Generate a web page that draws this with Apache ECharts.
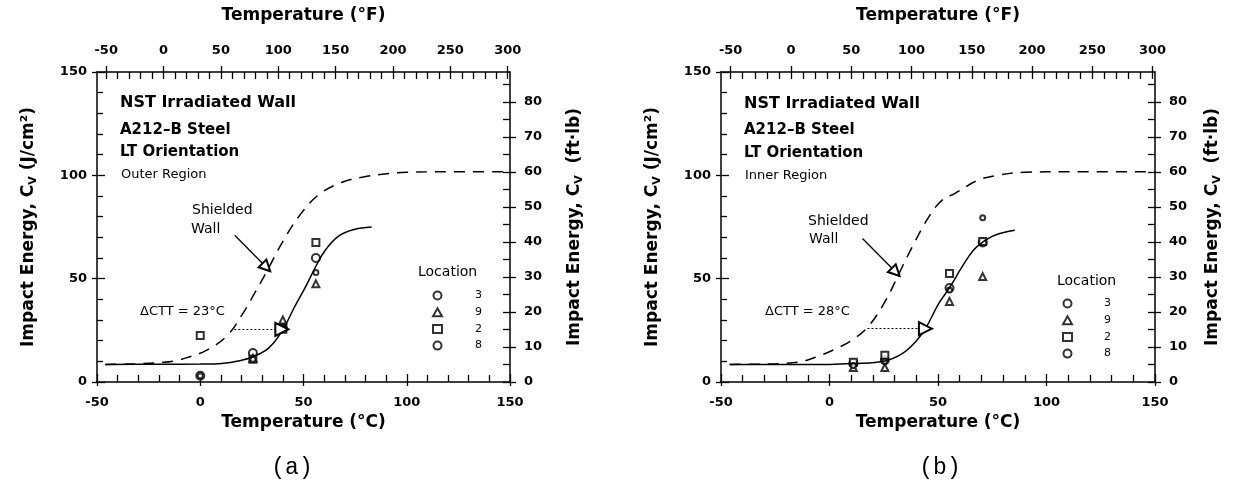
<!DOCTYPE html>
<html>
<head>
<meta charset="utf-8">
<script src="https://cdn.jsdelivr.net/npm/echarts@6/dist/echarts.min.js"></script>
<style>
html,body{margin:0;padding:0;background:#fff;}
#chart{width:1237px;height:491px;}
</style>
</head>
<body>
<div id="chart"></div>
<script>
// ---------- tick labels ----------
const tempC_ticks = [-50, 0, 50, 100, 150];
const tempF_ticks = [-50, 0, 50, 100, 150, 200, 250, 300];
const tempF_minor = [-50,-40,-30,-20,-10,0,10,20,30,40,50,60,70,80,90,100,110,120,130,140,150,160,170,180,190,200,210,220,230,240,250,260,270,280,290,300];
const energyJ_ticks = [0, 50, 100, 150];
const ftlb_ticks = [0,10,20,30,40,50,60,70,80];
const ftlb_minor = [0,5,10,15,20,25,30,35,40,45,50,55,60,65,70,75,80,85];
const locations = ['3', '9', '2', '8'];

// ---------- panel (a): Outer Region ----------
const shieldedA = [[-46,8.5],[-30,8.8],[-18,9.5],[-12.5,10.2],[-6.4,11.8],[2.7,15.2],[12.7,22.1],[20.3,32.6],[26.4,43.1],[33.2,55.3],[40.1,68.2],[48.5,81.1],[57.6,90.8],[68.3,96.5],[79,99.2],[88,100.5],[100,101.5],[120,101.7],[150,101.7]];
const irradA = [[-46,8.5],[-20,8.6],[0,8.7],[10.4,9],[20,10.5],[25.6,12.2],[33.2,16.5],[40,25.3],[45.4,35.8],[51.5,47],[56,56],[60.7,64],[66.8,70.5],[74,73.7],[83,75]];
const a_loc3 = [[0,3],[25.5,14],[40,26],[56,60]];
const a_loc9 = [[25.5,11.5],[40,30],[56,47.5]];
const a_loc2 = [[0,22.5],[25.5,11],[40,25.5],[56,67.5]];
const a_loc8 = [[0,3],[25.5,11],[40,26],[56,53]];
const a_ctt = [[16.5,25.5],[39.5,25.5]];
const a_shieldArrow = [[16.7,71],[32,55.5]];

// ---------- panel (b): Inner Region ----------
const shieldedB = [[-46,8.5],[-35,8.6],[-22.9,8.9],[-13.7,9.7],[-6.1,12.1],[3,16.1],[11.4,21],[18.3,27.4],[25.9,39.5],[32,52.4],[38.1,65.3],[45.7,79.8],[51.8,87.9],[57.9,91.3],[68.4,97.6],[77.6,100],[90,101.5],[110,101.7],[150,101.7]];
const irradB = [[-46,8.5],[0,8.5],[10.7,8.9],[25.5,10.2],[33.5,13.7],[39.6,19.4],[44.2,25.8],[50.3,37.9],[55.3,45.6],[61,55.6],[66.3,63.7],[70.6,67.7],[76.2,71],[85.4,73.4]];
const b_loc3 = [[11,9],[25.5,10.5],[55.3,45.5],[70.6,67.5]];
const b_loc9 = [[11,7],[25.5,7],[55.3,39],[70.6,51]];
const b_loc2 = [[11,9.5],[25.5,13],[55.3,52.5],[70.6,68]];
const b_loc8 = [[11,8],[25.5,10],[55.3,44.5],[70.6,79.5]];
const b_ctt = [[17.5,25.8],[44.2,25.8]];
const b_shieldArrow = [[15.2,69.4],[30.5,53.2]];

// ---------- styling helpers ----------
const FF = '"DejaVu Sans", "Liberation Sans", sans-serif';
const BLACK = '#000';
const lineSt = {color: BLACK, width: 1.5};
const tickSt = {color: BLACK, width: 1.3};
const tickLabel = {color: BLACK, fontFamily: FF, fontWeight: 'bold', fontSize: 13};
const nameStyle = {color: BLACK, fontFamily: FF, fontWeight: 'bold', fontSize: 17,
  rich: {sub: {fontFamily: FF, fontWeight: 'bold', fontSize: 11, color: BLACK, verticalAlign: 'bottom', padding: [9, 0, 0, 0]}}};

const grids = [
  {left: 97, top: 72, width: 413, height: 310},
  {left: 721, top: 72, width: 434, height: 310}
];
const rightNameGap = [55, 48];

function xAxesFor(g) {
  return [
    {type: 'value', gridIndex: g, position: 'bottom', min: -50, max: 150, interval: 50,
     axisLine: {show: true, onZero: false, lineStyle: lineSt},
     axisTick: {show: true, inside: true, length: 8, lineStyle: tickSt},
     minorTick: {show: true, splitNumber: 5, length: 7, lineStyle: tickSt},
     axisLabel: Object.assign({margin: 14}, tickLabel),
     splitLine: {show: false},
     name: 'Temperature (°C)', nameLocation: 'middle', nameGap: 32, nameTextStyle: nameStyle},
    {type: 'value', gridIndex: g, position: 'bottom', min: -50, max: 150, interval: 50,
     axisLine: {show: false, onZero: false}, axisTick: {show: true, inside: false, length: 4, lineStyle: tickSt},
     axisLabel: {show: false}, splitLine: {show: false}},
    {type: 'value', gridIndex: g, position: 'top', min: -58, max: 302,
     axisLine: {show: true, onZero: false, lineStyle: lineSt},
     axisTick: {show: true, inside: true, length: 7, customValues: tempF_minor, lineStyle: tickSt},
     axisLabel: Object.assign({margin: 15, customValues: tempF_ticks}, tickLabel),
     splitLine: {show: false},
     name: 'Temperature (°F)', nameLocation: 'middle', nameGap: 48, nameTextStyle: nameStyle},
    {type: 'value', gridIndex: g, position: 'top', min: -58, max: 302,
     axisLine: {show: false, onZero: false},
     axisTick: {show: true, inside: false, length: 6, customValues: tempF_ticks, lineStyle: tickSt},
     axisLabel: {show: false}, splitLine: {show: false}}
  ];
}
function yAxesFor(g) {
  return [
    {type: 'value', gridIndex: g, position: 'left', min: 0, max: 150, interval: 50,
     axisLine: {show: true, onZero: false, lineStyle: lineSt},
     axisTick: {show: true, inside: true, length: 8, lineStyle: tickSt},
     minorTick: {show: true, splitNumber: 5, length: 6, lineStyle: tickSt},
     axisLabel: Object.assign({margin: 10}, tickLabel),
     splitLine: {show: false},
     name: 'Impact Energy, C{sub|V} (J/cm²)', nameLocation: 'middle', nameGap: 58, nameTextStyle: nameStyle},
    {type: 'value', gridIndex: g, position: 'left', min: 0, max: 150, interval: 50,
     axisLine: {show: false, onZero: false}, axisTick: {show: true, inside: false, length: 5, lineStyle: tickSt},
     axisLabel: {show: false}, splitLine: {show: false}},
    {type: 'value', gridIndex: g, position: 'right', min: 0, max: 88.5,
     axisLine: {show: true, onZero: false, lineStyle: lineSt},
     axisTick: {show: true, inside: true, length: 7, customValues: ftlb_minor, lineStyle: tickSt},
     axisLabel: Object.assign({margin: 14, customValues: ftlb_ticks}, tickLabel),
     splitLine: {show: false},
     name: 'Impact Energy, C{sub|V}  (ft·lb)', nameLocation: 'middle', nameGap: rightNameGap[g], nameTextStyle: nameStyle},
    {type: 'value', gridIndex: g, position: 'right', min: 0, max: 88.5,
     axisLine: {show: false, onZero: false},
     axisTick: {show: true, inside: false, length: 6, customValues: ftlb_ticks, lineStyle: tickSt},
     axisLabel: {show: false}, splitLine: {show: false}}
  ];
}

function arrowLine(pts, dotted, size) {
  return {
    silent: true, animation: false,
    symbol: ['none', 'emptyTriangle'], symbolSize: size,
    label: {show: false},
    lineStyle: {color: BLACK, width: dotted ? 1 : 1.3, type: dotted ? [2, 2] : 'solid'},
    emphasis: {disabled: true},
    data: [[{coord: pts[0]}, {coord: pts[1]}]]
  };
}

function panelSeries(ax, shielded, irrad, l3, l9, l2, l8, ctt, sArrow) {
  const common = {xAxisIndex: ax, yAxisIndex: ax, animation: false, silent: true};
  return [
    Object.assign({type: 'line', name: 'Shielded Wall', data: shielded, smooth: 0.4, showSymbol: false, symbol: 'none',
      lineStyle: {color: BLACK, width: 1.5, type: [11, 8]}, markLine: arrowLine(sArrow, false, 11)}, common),
    Object.assign({type: 'line', name: 'Irradiated', data: irrad, smooth: 0.4, showSymbol: false, symbol: 'none',
      lineStyle: {color: BLACK, width: 1.5}, markLine: arrowLine(ctt, true, 13)}, common),
    Object.assign({type: 'scatter', name: locations[0], data: l3, symbol: 'emptyCircle', symbolSize: 8,
      itemStyle: {color: BLACK, borderColor: BLACK, borderWidth: 1.4}}, common),
    Object.assign({type: 'scatter', name: locations[1], data: l9, symbol: 'emptyTriangle', symbolSize: 7,
      itemStyle: {color: BLACK, borderColor: BLACK, borderWidth: 1.4}}, common),
    Object.assign({type: 'scatter', name: locations[2], data: l2, symbol: 'emptyRect', symbolSize: 7,
      itemStyle: {color: BLACK, borderColor: BLACK, borderWidth: 1.4}}, common),
    Object.assign({type: 'scatter', name: locations[3], data: l8, symbol: 'emptyCircle', symbolSize: 5,
      itemStyle: {color: BLACK, borderColor: BLACK, borderWidth: 1.6}}, common)
  ];
}

function txt(x, y, text, font, align) {
  return {type: 'text', x: x, y: y, silent: true,
    style: {text: text, font: font, fill: BLACK, align: align || 'left', verticalAlign: 'middle'}};
}
const fBoldT = 'bold 16px ' + FF;
const fBold15 = 'bold 15px ' + FF;
const fNorm13 = '13px ' + FF;
const fNorm14 = '14px ' + FF;
const fPanel = '23px "Liberation Mono", "DejaVu Sans Mono", monospace';

const graphics = [
  // panel (a)
  txt(120, 103, 'NST Irradiated Wall', fBoldT),
  txt(120, 130, 'A212–B Steel', fBold15),
  txt(120, 152, 'LT Orientation', fBold15),
  txt(121, 175, 'Outer Region', fNorm13),
  txt(192, 210, 'Shielded', fNorm14),
  txt(191, 229, 'Wall', fNorm14),
  txt(140, 312, 'ΔCTT = 23°C', fNorm13),
  txt(418, 272, 'Location', fNorm14),
  txt(292, 468, '(a)', fPanel, 'center'),
  // panel (b)
  txt(744, 104, 'NST Irradiated Wall', fBoldT),
  txt(744, 130, 'A212–B Steel', fBold15),
  txt(744, 153, 'LT Orientation', fBold15),
  txt(745, 176, 'Inner Region', fNorm13),
  txt(808, 221, 'Shielded', fNorm14),
  txt(809, 239, 'Wall', fNorm14),
  txt(765, 312, 'ΔCTT = 28°C', fNorm13),
  txt(1057, 281, 'Location', fNorm14),
  txt(940, 468, '(b)', fPanel, 'center')
];

function legendFor(left, top, pad) {
  return {
    show: true, left: left, top: top, orient: 'vertical', selectedMode: false, padding: 0,
    itemWidth: 9, itemHeight: 8, itemGap: 5.7,
    data: locations,
    textStyle: {color: BLACK, fontFamily: FF, fontSize: 11, padding: [0, 0, 0, pad]}
  };
}

const chart = echarts.init(document.getElementById('chart'), null, {renderer: 'canvas'});
chart.setOption({
  backgroundColor: '#fff',
  animation: false,
  grid: grids,
  xAxis: xAxesFor(0).concat(xAxesFor(1)),
  yAxis: yAxesFor(0).concat(yAxesFor(1)),
  legend: [legendFor(432, 290, 28), legendFor(1062, 298, 27)],
  graphic: {elements: graphics},
  series: panelSeries(0, shieldedA, irradA, a_loc3, a_loc9, a_loc2, a_loc8, a_ctt, a_shieldArrow)
    .concat(panelSeries(4, shieldedB, irradB, b_loc3, b_loc9, b_loc2, b_loc8, b_ctt, b_shieldArrow))
});
</script>
</body>
</html>
